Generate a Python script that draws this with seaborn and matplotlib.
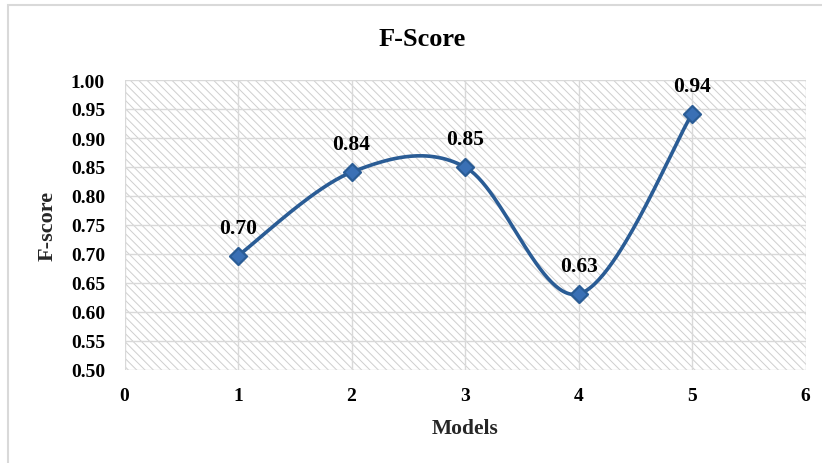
import numpy as np
import pandas as pd
import matplotlib
matplotlib.use("Agg")
import matplotlib.pyplot as plt
import matplotlib.transforms as mtransforms
import seaborn as sns
from matplotlib.patches import Rectangle

models = [1, 2, 3, 4, 5]
fscore = [0.697, 0.841, 0.850, 0.631, 0.941]
labels = ["0.70", "0.84", "0.85", "0.63", "0.94"]

sns.set_theme(style="white")
plt.rcParams['font.family'] = ['Liberation Serif', 'DejaVu Serif']
plt.rcParams['font.weight'] = 'bold'
plt.rcParams['hatch.linewidth'] = 0.7

line_color = "#2A5C95"

def excel_smooth(xs, ys, n=60):
    xs = np.asarray(xs, float); ys = np.asarray(ys, float)
    P = np.column_stack([xs, ys])
    out = []
    m = len(P)
    for i in range(m - 1):
        p0 = P[i - 1] if i > 0 else P[i]
        p1 = P[i]
        p2 = P[i + 1]
        p3 = P[i + 2] if i + 2 < m else P[i + 1]
        c1 = p1 + (p2 - p0) / 6.0
        c2 = p2 - (p3 - p1) / 6.0
        t = np.linspace(0, 1, n)[:, None]
        seg = ((1 - t) ** 3) * p1 + 3 * ((1 - t) ** 2) * t * c1 + 3 * (1 - t) * t ** 2 * c2 + t ** 3 * p2
        out.append(seg if i == 0 else seg[1:])
    return np.vstack(out)

df = pd.DataFrame({"Models": models, "F-score": fscore})
curve = excel_smooth(models, fscore)
cdf = pd.DataFrame({"x": curve[:, 0], "y": curve[:, 1]})

W, H = 822, 464
fig = plt.figure(figsize=(W / 100, H / 100), dpi=100)
fig.patches.append(Rectangle((8 / W, -0.1), 1.2, 1 - 6 / H + 0.1, transform=fig.transFigure,
                             facecolor="white", edgecolor="#d9d9d9", lw=1.5, zorder=-5))
ax = fig.add_axes([124.5 / W, 1 - 371 / H, 681 / W, 290 / H])
ax.set_facecolor("none")
ax.add_patch(Rectangle((0, 0), 1, 1, transform=ax.transAxes, facecolor="white",
                       edgecolor="#cfcfcf", hatch="\\\\\\\\", lw=0, zorder=0))

sns.lineplot(data=cdf, x="x", y="y", ax=ax, color=line_color, lw=2.6, sort=False, zorder=3)
sns.scatterplot(data=df, x="Models", y="F-score", ax=ax, marker="D", s=75,
                color="#3A70B5", edgecolor=line_color, linewidth=1.6, zorder=4)

for xv, yv, lab in zip(models, fscore, labels):
    ax.annotate(lab, (xv, yv), xytext=(0, 20), textcoords="offset points",
                ha="center", va="center", fontsize=15.5, fontweight="bold", color="black")

ax.set_xlim(0, 6)
ax.set_ylim(0.5, 1.0)
ax.set_xticks(range(0, 7))
ax.set_yticks(np.arange(0.5, 1.0001, 0.05))
ax.set_yticklabels([f"{v:.2f}" for v in np.arange(0.5, 1.0001, 0.05)])
ax.grid(True, color="#d9d9d9", lw=1.0, zorder=1)
ax.set_axisbelow(True)
for s in ax.spines.values():
    s.set_visible(False)
ax.tick_params(axis="both", length=0, labelsize=14, colors="black")
ax.tick_params(axis="x", pad=12)
ax.tick_params(axis="y", pad=14)
for t in ax.get_xticklabels() + ax.get_yticklabels():
    t.set_fontweight("bold")
ax.set_xlabel("Models", fontsize=15.5, fontweight="bold")
ax.set_ylabel("F-score", fontsize=16, fontweight="bold")
ax.yaxis.set_label_coords(58 / W, 0.5,
                          transform=mtransforms.blended_transform_factory(fig.transFigure, ax.transAxes))
ax.xaxis.set_label_coords(0.5, 1 - 419 / H,
                          transform=mtransforms.blended_transform_factory(ax.transAxes, fig.transFigure))
fig.text(422 / W, 1 - 40 / H, "F-Score", fontsize=19, fontweight="bold",
         ha="center", va="center", color="black")

fig.savefig("out.png", dpi=100)
